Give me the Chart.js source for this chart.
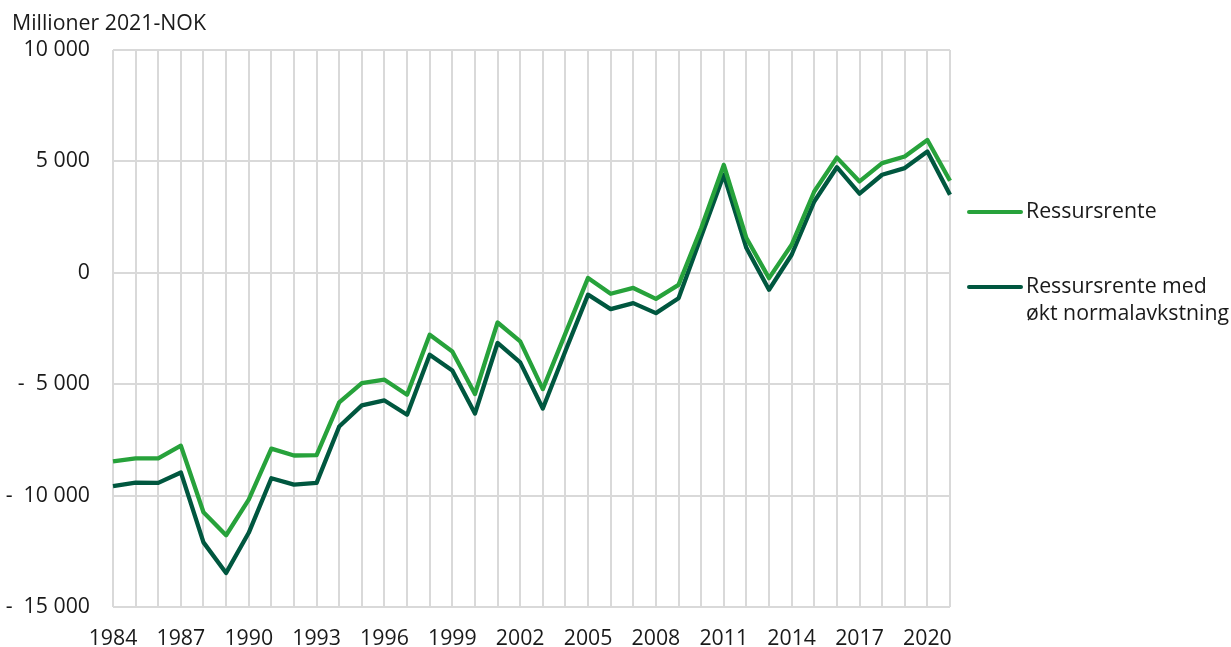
<!DOCTYPE html>
<html>
<head>
<meta charset="utf-8">
<script src="https://cdn.jsdelivr.net/npm/chart.js@4.4.1/dist/chart.umd.min.js"></script>
<style>
  html, body { margin: 0; padding: 0; background: #fff; }
  #wrap { width: 1231px; height: 647px; position: relative; }
</style>
</head>
<body>
<div id="wrap"><canvas id="chart"></canvas></div>
<script>
// Years on the x axis, 1984-2021
const years = ['1984','1985','1986','1987','1988','1989','1990','1991','1992','1993',
  '1994','1995','1996','1997','1998','1999','2000','2001','2002','2003',
  '2004','2005','2006','2007','2008','2009','2010','2011','2012','2013',
  '2014','2015','2016','2017','2018','2019','2020','2021'];

// Only every third year gets a label
const yearTicks = ['1984','1987','1990','1993','1996','1999','2002','2005','2008',
  '2011','2014','2017','2020'];

// Millioner 2021-NOK
const ressursrente = [-8460, -8330, -8330, -7760, -10750, -11780, -10180, -7890, -8200, -8180,
  -5820, -4950, -4800, -5470, -2780, -3530, -5440, -2230, -3080, -5220,
  -2720, -230, -940, -680, -1170, -540, 2000, 4840, 1560, -240,
  1260, 3650, 5170, 4100, 4920, 5220, 5960, 4130];

const ressursrenteNormal = [-9580, -9420, -9430, -8960, -12100, -13470, -11670, -9220, -9510, -9430,
  -6900, -5950, -5730, -6370, -3680, -4390, -6320, -3150, -4020, -6090,
  -3510, -980, -1630, -1360, -1810, -1140, 1630, 4400, 1110, -760,
  810, 3200, 4740, 3550, 4400, 4700, 5440, 3500];

const yTicks = [-15000, -10000, -5000, 0, 5000, 10000];

const legendLines = [['Ressursrente'], ['Ressursrente med', 'økt normalavkstning']];

const FONT = "'Open Sans', 'Noto Sans', sans-serif";
const FONT_SIZE = 21.3;
const TEXT = '#1a1a1a';
const GRID = '#d9d9d9';

function fmt(v) {
  const s = Math.abs(v).toString().replace(/\B(?=(\d{3})+(?!\d))/g, ' ');
  return v < 0 ? '-  ' + s : s;
}

// Title in the top left corner and the legend on the right
const extras = {
  id: 'extras',
  afterDraw(chart) {
    const ctx = chart.ctx;
    const area = chart.chartArea;
    ctx.save();
    ctx.font = FONT_SIZE + 'px ' + FONT;
    ctx.fillStyle = TEXT;
    ctx.textBaseline = 'alphabetic';
    ctx.textAlign = 'left';
    ctx.fillText('Millioner 2021-NOK', 12, 30);

    const rows = [212, 287];
    chart.data.datasets.forEach((ds, i) => {
      const y = rows[i];
      ctx.strokeStyle = ds.borderColor;
      ctx.lineWidth = 4;
      ctx.lineCap = 'round';
      ctx.beginPath();
      ctx.moveTo(area.right + 19, y);
      ctx.lineTo(area.right + 71, y);
      ctx.stroke();
      ctx.fillStyle = TEXT;
      ctx.textBaseline = 'middle';
      legendLines[i].forEach((line, j) => {
        ctx.fillText(line, area.right + 76, y + j * 27);
      });
    });
    ctx.restore();
  }
};

new Chart(document.getElementById('chart'), {
  type: 'line',
  data: {
    labels: years,
    datasets: [
      {
        label: legendLines[0].join(' '),
        data: ressursrente,
        borderColor: '#27a23b',
        borderWidth: 4.3,
        pointRadius: 0,
        tension: 0,
        borderJoinStyle: 'round'
      },
      {
        label: legendLines[1].join(' '),
        data: ressursrenteNormal,
        borderColor: '#00573f',
        borderWidth: 4.3,
        pointRadius: 0,
        tension: 0,
        borderJoinStyle: 'round'
      }
    ]
  },
  options: {
    responsive: true,
    maintainAspectRatio: false,
    animation: false,
    layout: { padding: { top: 50, right: 281, left: 0, bottom: 0 } },
    plugins: {
      legend: { display: false },
      tooltip: { enabled: false }
    },
    scales: {
      x: {
        grid: { color: GRID, lineWidth: 2, drawTicks: false },
        border: { display: false },
        ticks: {
          autoSkip: false,
          maxRotation: 0,
          padding: 19,
          color: TEXT,
          font: { family: FONT, size: FONT_SIZE },
          callback: function (value, index) {
            const lbl = years[index];
            return yearTicks.includes(lbl) ? lbl : '';
          }
        },
        afterFit: (scale) => { scale.height = 40; }
      },
      y: {
        min: -15000,
        max: 10000,
        grid: { color: GRID, lineWidth: 2, drawTicks: false },
        border: { display: false },
        afterBuildTicks: (scale) => { scale.ticks = yTicks.map(v => ({ value: v })); },
        ticks: {
          padding: 23,
          color: TEXT,
          font: { family: FONT, size: FONT_SIZE },
          callback: (v) => fmt(v)
        },
        afterFit: (scale) => { scale.width = 113; }
      }
    }
  },
  plugins: [extras]
});
</script>
</body>
</html>
